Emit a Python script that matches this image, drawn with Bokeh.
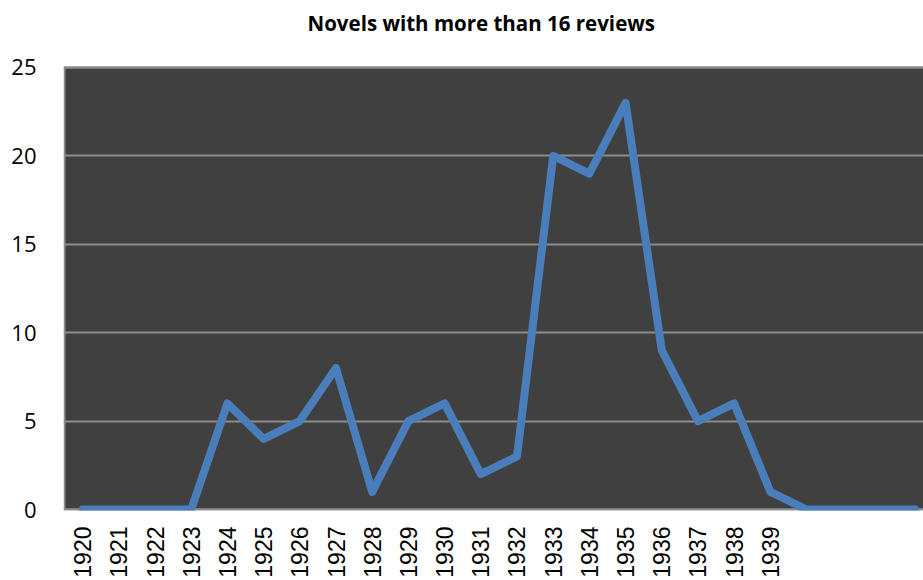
import math
from bokeh.plotting import figure
from bokeh.models import Range1d, FixedTicker, Title
from bokeh.embed import file_html
from bokeh.resources import INLINE

# Year categories (the last four slots carry no label) and counts per year
years = ["1920", "1921", "1922", "1923", "1924", "1925", "1926", "1927", "1928", "1929",
         "1930", "1931", "1932", "1933", "1934", "1935", "1936", "1937", "1938", "1939",
         "", "", "", ""]
novels = [0, 0, 0, 0, 6, 4, 5, 8, 1, 5,
          6, 2, 3, 20, 19, 23, 9, 5, 6, 1,
          0, 0, 0, 0]
y_ticks = [0, 5, 10, 15, 20, 25]

xs = list(range(len(years)))

p = figure(width=923, height=580, output_backend="svg", toolbar_location=None,
           x_range=Range1d(-0.528, 23.23), y_range=Range1d(-0.056, 25.113),
           min_border_left=63, min_border_right=0, min_border_top=65, min_border_bottom=60,
           title="Novels with more than 16 reviews")

p.background_fill_color = "white"
p.border_fill_color = "white"
p.outline_line_color = None

# dark plotting area from 0 to 25 with grey border
area = p.quad(left=[-0.5], right=[23.5], bottom=[0], top=[25],
              fill_color="#404040", line_color="#8c8c8c", line_width=2)
area.level = "image"

p.title.text_font = "Open Sans"
p.title.text_font_style = "bold"
p.title.text_font_size = "20.5px"
p.title.text_color = "black"
p.title.align = "left"
p.title.offset = 244

# blank spacer between the title and the plotting area
p.add_layout(Title(text=" ", text_font_size="11px"), "above")

# horizontal gridlines
p.xgrid.grid_line_color = None
p.ygrid.ticker = FixedTicker(ticks=y_ticks)
p.ygrid.grid_line_color = "#8c8c8c"
p.ygrid.grid_line_width = 2

# y axis
p.yaxis.ticker = FixedTicker(ticks=y_ticks)
p.yaxis.axis_line_color = None
p.yaxis.major_tick_line_color = None
p.yaxis.minor_tick_line_color = None
p.yaxis.major_label_text_font = "Open Sans"
p.yaxis.major_label_text_font_size = "22px"
p.yaxis.major_label_text_color = "black"
p.yaxis.major_label_standoff = 21

# x axis with vertical year labels
p.xaxis.ticker = FixedTicker(ticks=[i for i, y in enumerate(years) if y])
p.xaxis.major_label_overrides = {i: y for i, y in enumerate(years) if y}
p.xaxis.major_label_orientation = math.pi / 2
p.xaxis.axis_line_color = None
p.xaxis.major_tick_line_color = None
p.xaxis.minor_tick_line_color = None
p.xaxis.major_tick_out = 0
p.xaxis.major_tick_in = 0
p.xaxis.major_label_text_font = "Liberation Sans"
p.xaxis.major_label_text_font_size = "23px"
p.xaxis.major_label_text_color = "black"
p.xaxis.major_label_standoff = 16

p.line(xs, novels, line_color="#4a7ebb", line_width=8,
       line_join="round", line_cap="round")

open("out.html", "w").write(file_html(p, INLINE))
